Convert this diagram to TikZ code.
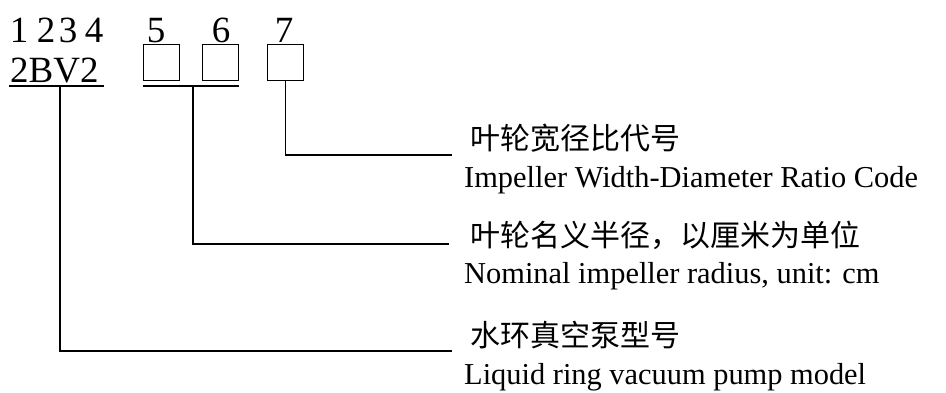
\documentclass[tikz,border=0pt]{standalone}
\usepackage{fontspec}
\setmainfont{Liberation Serif}
\newfontfamily\cjk{Noto Sans CJK SC}
\begin{document}
\begin{tikzpicture}[x=1pt,y=-1pt,
  code/.style={inner sep=0, anchor=base, font=\fontsize{37}{40}\selectfont},
  slot/.style={draw, line width=1.1pt, minimum size=36pt, inner sep=0, anchor=north west},
  lead/.style={line width=1.1pt},
  bar/.style={line width=1.4pt},
  cn/.style={inner sep=0, anchor=base west, font=\cjk\fontsize{30}{34}\selectfont},
  en/.style={inner sep=0, anchor=base west, font=\fontsize{30.4}{34}\selectfont}]
\useasboundingbox (0,0) rectangle (946,392);

% position numbers
\node[code] (d1) at (19,42) {1};
\node[code] (d2) at (46,42) {2};
\node[code] (d3) at (68,42) {3};
\node[code] (d4) at (94,42) {4};
\node[code] (d5) at (156,42) {5};
\node[code] (d6) at (221,42) {6};
\node[code] (d7) at (284,42) {7};

% model prefix and blank slots
\node[code, anchor=base west] (model) at (10,82) {2BV2};
\node[slot] (s5) at (143,44) {};
\node[slot] (s6) at (202,44) {};
\node[slot] (s7) at (267,44) {};

% underlines
\coordinate (u1a) at (9,86);
\coordinate (u1b) at (104,86);
\coordinate (u2a) at (143,86);
\coordinate (u2b) at (239,86);
\draw[bar] (u1a) -- (u1b);
\draw[bar] (u2a) -- (u2b);

% leader lines
\coordinate (m14) at (60,86);
\coordinate (m56) at (193,86);
\coordinate (t7) at (452,155);
\coordinate (t56) at (449,244);
\coordinate (t14) at (452,351);
\draw[lead] (s7.south) |- (t7);
\draw[lead] (m56) |- (t56);
\draw[lead] (m14) |- (t14);

% descriptions
\node[cn] (c7) at (470,149) {叶轮宽径比代号};
\node[en] (e7) at (464,187) {Impeller Width-Diameter Ratio Code};
\node[cn] (c56) at (470,246) {叶轮名义半径，以厘米为单位};
\node[en] (e56) at (464,283) {Nominal impeller radius, unit: cm};
\node[cn] (c14) at (470,346) {水环真空泵型号};
\node[en] (e14) at (464,384) {Liquid ring vacuum pump model};
\end{tikzpicture}
\end{document}
